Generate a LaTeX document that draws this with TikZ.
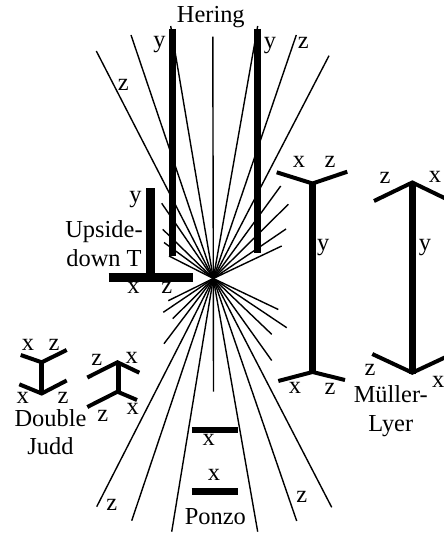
\documentclass[tikz,border=0pt]{standalone}
\usepackage{fontspec}
\setmainfont{Liberation Serif}
\usetikzlibrary{positioning}

\begin{document}
\begin{tikzpicture}[x=1bp, y=-1bp,
    ray/.style={line width=1.4bp},
    hbar/.style={line width=7bp},
    tbar/.style={line width=9.5bp},
    shaft/.style={line width=6.5bp},
    fin/.style={line width=4bp},
    jbar/.style={line width=5bp},
    lbl/.style={inner sep=0pt, font=\fontsize{24.5}{28.5}\selectfont},
    twoline/.style={lbl, align=center}]
  \useasboundingbox (0,0) rectangle (444,533);
  \clip (0,0) rectangle (444,533);
  \coordinate (C) at (213.3,278.5);
  % fan of rays
  \foreach \p in {(96.3,51),(131,35),(170.7,26),(212.8,36.7),(257.7,26),(296.3,35),(329,55.7),
                  (161.7,203.3),(162.7,229.3),(164,242.5),(169,256),
                  (280.7,186),(288.3,204.3),(286,229),(281.7,246),
                  (96.7,506.7),(131.7,520.7),(171.7,531.7),(213.5,391.7),(257.7,531.7),(296.7,521),(331.7,507.3),
                  (168.3,300.7),(163.3,312.3),(172.7,318.7),(164,343.7),
                  (278.3,309.5),(286.7,327.7),(271.7,334.3),(271.7,360.5)}
     \draw[ray] (C) -- \p;
  % Hering
  \draw[hbar] (172.5,29) -- (172.5,256);
  \draw[hbar] (257.8,29) -- (257.8,253);
  \node[lbl] (her) at (210.8,17.5) {Hering};
  \node[lbl] (hy1) at (159.5,45) {y};
  \node[lbl] (hy2) at (270,46) {y};
  \node[lbl] (hz1) at (123.3,85) {z};
  \node[lbl] (hz2) at (303.3,43) {z};
  % upside-down T
  \draw[tbar] (150.7,188.3) -- (150.7,277);
  \draw[tbar] (108.7,277.5) -- (193.3,277.5);
  \node[lbl] (ty) at (135.5,200) {y};
  \node[twoline] (tcap) at (104,243.5) {Upside-\\down T};
  \node[lbl] (tx) at (133.5,288.3) {x};
  \node[lbl] (tz) at (166.7,288.3) {z};
  % Mueller-Lyer
  \draw[shaft] (312.7,182.3) -- (312.7,374);
  \draw[fin] (276.7,172.3) -- (312.5,183.5) -- (347.3,171.7);
  \draw[fin] (278.3,381) -- (312.5,372) -- (345,380);
  \draw[shaft] (412.3,182.3) -- (412.3,374);
  \draw[fin] (374,201) -- (412.3,182.5) -- (450.6,201);
  \draw[fin] (372.3,354) -- (412.3,372.7) -- (452.3,354);
  \node[lbl] (mx1) at (299,161.7) {x};
  \node[lbl] (mz1) at (330,161.7) {z};
  \node[lbl] (my1) at (323.3,247.3) {y};
  \node[lbl] (mx2) at (295,388.3) {x};
  \node[lbl] (mz2) at (330,389.3) {z};
  \node[lbl] (mz3) at (385,178.3) {z};
  \node[lbl] (mx3) at (435,176.7) {x};
  \node[lbl] (my2) at (425,248) {y};
  \node[lbl] (mz4) at (370,370) {z};
  \node[lbl] (mx4) at (438.3,381.7) {x};
  \node[twoline] (mcap) at (390.8,411) {Müller-\\Lyer};
  % Double Judd
  \draw[jbar] (41.7,362) -- (41.7,393.5);
  \draw[fin] (20.7,355) -- (41.7,362.3) -- (66.7,350);
  \draw[fin] (19.3,384.3) -- (41.7,393.5) -- (66.7,380.5);
  \draw[jbar] (118,362) -- (118,392);
  \draw[fin] (87.3,377.5) -- (117.5,362.3) -- (139.3,372.7);
  \draw[fin] (87.3,407) -- (117.5,391.7) -- (137,400);
  \node[lbl] (jx1) at (28,344.5) {x};
  \node[lbl] (jz1) at (54,344.5) {z};
  \node[lbl] (jx2) at (22.7,397.5) {x};
  \node[lbl] (jz2) at (63,397.5) {z};
  \node[lbl] (jz3) at (96.7,360.3) {z};
  \node[lbl] (jx3) at (131.7,357.8) {x};
  \node[lbl] (jz4) at (102.7,415.5) {z};
  \node[lbl] (jx4) at (132.7,409) {x};
  \node[twoline] (jcap) at (50.5,432) {Double\\Judd};
  % Ponzo
  \draw[shaft] (191.7,430) -- (238.3,430);
  \draw[shaft] (191.7,491.7) -- (238.3,491.7);
  \node[lbl] (px1) at (208.8,440) {x};
  \node[lbl] (px2) at (214,475) {x};
  \node[lbl] (pcap) at (215.3,516.7) {Ponzo};
  \node[lbl] (pz1) at (111.7,505) {z};
  \node[lbl] (pz2) at (301.7,496.7) {z};
\end{tikzpicture}
\end{document}
